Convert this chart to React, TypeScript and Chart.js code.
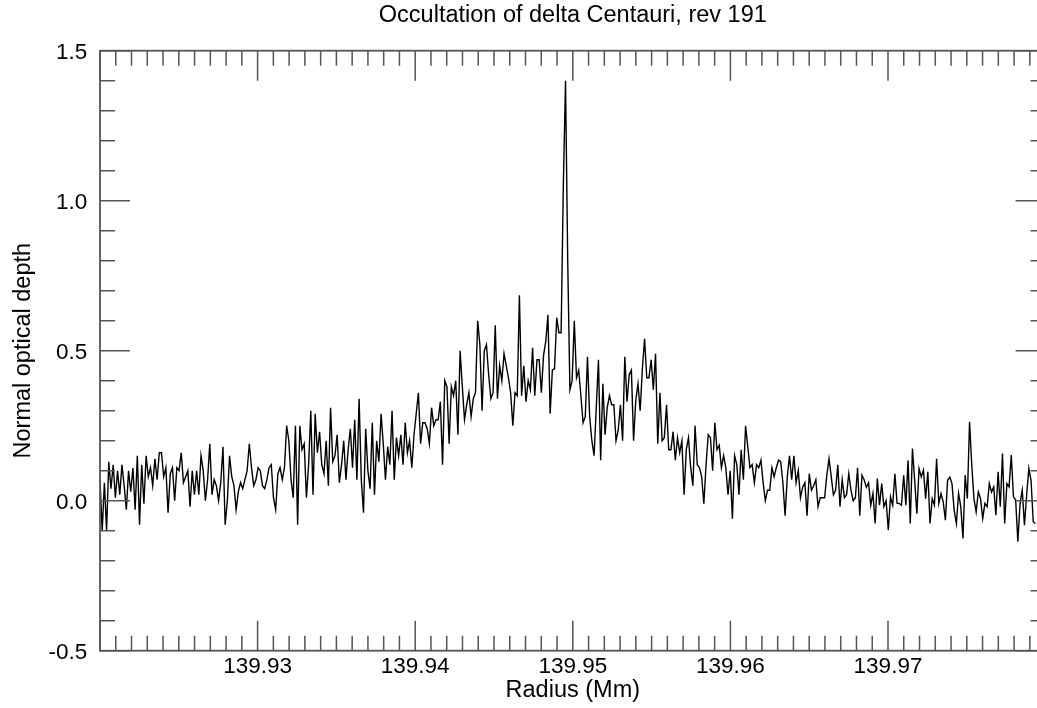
import React, { useEffect, useRef } from 'react';
import { Chart, registerables } from 'chart.js';

Chart.register(...registerables);

// ---- axis ranges & tick labels ----
const X_MIN = 139.92;
const X_MAX = 139.98;
const Y_MIN = -0.5;
const Y_MAX = 1.5;
const xTickLabels = ['139.93', '139.94', '139.95', '139.96', '139.97'];
const yTickLabels = ['-0.5', '0.0', '0.5', '1.0', '1.5'];

// ---- sampling grid of the radius (Mm) ----
const RADIUS_START = 139.92;
const RADIUS_STEP = 0.00013933;

// ---- normal optical depth, region by region ----
const depthInner = [
  0.07, -0.10, 0.06, -0.10, 0.13, 0.04, 0.12, 0.01, 0.10, 0.02,
  0.12, 0.05, -0.03, 0.10, 0.03, 0.11, -0.03, 0.15, -0.08, 0.12,
  -0.01, 0.15, 0.08, 0.11, 0.05, 0.14, 0.07, 0.16, 0.16, 0.08,
  0.11, -0.04, 0.09, 0.11, 0.00, 0.11, 0.10, 0.16, 0.06, 0.08,
  0.10, -0.02, 0.10, 0.02, 0.10, 0.02, 0.15, 0.10, 0.00, 0.07,
  0.19, 0.02, 0.07, 0.05, 0.00, 0.06, 0.18, -0.08, 0.00, 0.15,
  0.08, 0.05, -0.03, 0.03, 0.06, 0.04, 0.07, 0.10, 0.19, 0.11,
  0.05, 0.07, 0.11, 0.10, 0.05, 0.04, 0.07, 0.11, 0.12, 0.01,
  -0.03, 0.09, 0.11, 0.07, 0.11, 0.25, 0.20, 0.07, 0.01, 0.25,
  -0.08, 0.25, 0.17, 0.19, 0.01, 0.12, 0.30, 0.02, 0.29, 0.16,
  0.23, 0.12, 0.09, 0.20, 0.05, 0.31, 0.13, 0.15, 0.22,
];

const depthRise = [
  0.06, 0.12, 0.20, 0.07, 0.17, 0.24, 0.11, 0.27, 0.07, 0.34,
  0.07, -0.04, 0.24, 0.10, 0.04, 0.26, 0.02, 0.20, 0.13, 0.29,
  0.19, 0.07, 0.18, 0.12, 0.30, 0.07, 0.21, 0.15, 0.22, 0.12,
  0.26, 0.16, 0.20, 0.11, 0.22, 0.29, 0.36, 0.19, 0.26, 0.26,
  0.24, 0.19, 0.31, 0.25, 0.27, 0.27, 0.33, 0.12, 0.40, 0.38,
  0.19, 0.38, 0.35, 0.40, 0.22, 0.50,
];

const depthCore = [
  0.38, 0.27, 0.32, 0.36, 0.28, 0.34, 0.36, 0.60, 0.52, 0.30,
  0.50, 0.52, 0.42, 0.34, 0.36, 0.585, 0.34, 0.45, 0.40, 0.49,
  0.45, 0.41, 0.36, 0.25, 0.36, 0.35, 0.685, 0.35, 0.45, 0.33,
  0.40, 0.37, 0.51, 0.35, 0.47, 0.47, 0.36, 0.485, 0.53, 0.62,
  0.29, 0.435, 0.44, 0.61, 0.56, 0.56, 1.05, 1.40, 0.80, 0.37,
];

const depthShoulder = [
  0.40, 0.60, 0.41, 0.435, 0.35, 0.26, 0.28, 0.48, 0.28, 0.20,
  0.15, 0.31, 0.47, 0.135, 0.39, 0.22, 0.31, 0.35, 0.32, 0.32,
  0.20, 0.235, 0.32, 0.20, 0.48, 0.33, 0.42, 0.435, 0.20, 0.335,
  0.39, 0.30, 0.44, 0.54, 0.41, 0.41,
];

const depthFall = [
  0.47, 0.37, 0.49, 0.19, 0.36, 0.20, 0.21, 0.32, 0.17, 0.17,
  0.23, 0.135, 0.21, 0.16, 0.20, 0.02, 0.17, 0.21, 0.11, 0.05,
  0.25, 0.12, 0.11, 0.08, -0.01, 0.12, 0.22, 0.21, 0.10, 0.26,
  0.17, 0.185, 0.11, 0.15, 0.11, 0.02, 0.10, -0.06, 0.15, 0.12,
  0.02, 0.17, 0.07, 0.25, 0.18, 0.11, 0.12, 0.06, 0.12, 0.11,
  0.135, 0.06, 0.00, 0.035, 0.035, 0.11, 0.08, 0.11, 0.135, 0.13,
  0.06, -0.05, 0.08, 0.15, 0.07, 0.15, 0.06, 0.10, 0.01, 0.045,
  0.06, -0.05, 0.09, 0.035, 0.05, 0.07, -0.02, 0.01, 0.01, 0.01,
  0.085, 0.14, 0.08, 0.02, 0.035, 0.12, -0.02, 0.07, 0.01, 0.02,
  0.09, 0.035, 0.00, 0.01, 0.11, -0.05, 0.085, 0.07, 0.045,
];

const depthOuter = [
  0.06, -0.015, 0.024, -0.076, 0.074, -0.015, 0.057, -0.02, 0.00, -0.098,
  0.013, -0.015, 0.09, -0.009, -0.009, -0.015, 0.085, -0.015, 0.135, -0.076,
  0.174, 0.068, -0.043, 0.107, 0.079, 0.102, 0.007, 0.096, -0.076, 0.007,
  -0.015, 0.14, -0.009, 0.024, -0.004, -0.065, 0.068, 0.079, 0.057, -0.032,
  -0.076, 0.024, -0.02, -0.126, 0.085, 0.007, 0.263, 0.12, 0.007, -0.037,
  0.029, 0.007, -0.059, -0.009, -0.02, 0.057, 0.029, 0.046, -0.048, 0.096,
  -0.02, 0.157, -0.076, 0.057, 0.046, 0.152, 0.013, 0.002, -0.137, -0.009,
  0.035, -0.082, 0.018, 0.107, 0.068, -0.07, -0.076,
];

const depth = [
  ...depthInner,
  ...depthRise,
  ...depthCore,
  ...depthShoulder,
  ...depthFall,
  ...depthOuter,
];
const radius = depth.map((_, i) => RADIUS_START + i * RADIUS_STEP);

const FONT = "'Liberation Sans', Arial, Helvetica, sans-serif";
const AXIS_COLOR = '#555555';

const idlAxesPlugin = {
  id: 'idlAxes',
  afterDatasetsDraw(chart: any) {
    const { ctx, chartArea: a, scales } = chart;
    const xs = scales.x;
    const ys = scales.y;
    ctx.save();
    ctx.strokeStyle = AXIS_COLOR;
    ctx.lineWidth = 1.5;
    ctx.beginPath();
    const nx = Math.round((X_MAX - X_MIN) / 0.001);
    for (let k = 0; k <= nx; k++) {
      const px = xs.getPixelForValue(X_MIN + k * 0.001);
      const len = k % 10 === 0 ? 30 : 15;
      ctx.moveTo(px, a.bottom);
      ctx.lineTo(px, a.bottom - len);
      ctx.moveTo(px, a.top);
      ctx.lineTo(px, a.top + len);
    }
    const ny = Math.round((Y_MAX - Y_MIN) / 0.1);
    for (let k = 0; k <= ny; k++) {
      const py = ys.getPixelForValue(Y_MIN + k * 0.1);
      const len = k % 5 === 0 ? 30 : 15;
      ctx.moveTo(a.left, py);
      ctx.lineTo(a.left + len, py);
      ctx.moveTo(a.right, py);
      ctx.lineTo(a.right - len, py);
    }
    ctx.stroke();
    ctx.lineWidth = 1.8;
    ctx.strokeRect(a.left, a.top, a.right - a.left, a.bottom - a.top);
    ctx.restore();
  },
};

export default function App() {
  const canvasRef = useRef<HTMLCanvasElement>(null);

  useEffect(() => {
    if (!canvasRef.current) return;
    Chart.defaults.font.family = FONT;
    const chart = new Chart(canvasRef.current, {
      type: 'line',
      data: {
        datasets: [
          {
            data: radius.map((r, i) => ({ x: r, y: depth[i] })),
            borderColor: '#000000',
            borderWidth: 1.4,
            pointRadius: 0,
            tension: 0,
            fill: false,
          },
        ],
      },
      options: {
        responsive: false,
        animation: false,
        devicePixelRatio: 1,
        events: [],
        layout: { padding: { left: 0, right: 14.4, top: 0, bottom: 0 } },
        plugins: {
          legend: { display: false },
          tooltip: { enabled: false },
          title: {
            display: true,
            text: 'Occultation of delta Centauri, rev 191',
            fullSize: false,
            color: '#000000',
            font: { family: FONT, size: 23.5, weight: 'normal' },
            padding: { top: 1.5, bottom: 21 },
          },
        },
        scales: {
          x: {
            type: 'linear',
            min: X_MIN,
            max: X_MAX,
            grid: { display: false, drawTicks: false },
            border: { display: false },
            ticks: {
              stepSize: 0.01,
              autoSkip: false,
              maxRotation: 0,
              padding: 3,
              color: '#000000',
              font: { family: FONT, size: 22.5 },
              callback: (v: any) => {
                const s = Number(v).toFixed(2);
                return xTickLabels.includes(s) ? s : '';
              },
            },
            title: {
              display: true,
              text: 'Radius (Mm)',
              color: '#000000',
              font: { family: FONT, size: 23.5 },
              padding: { top: 0, bottom: 3 },
            },
            afterFit: (s: any) => {
              s.height = 57.3;
            },
          },
          y: {
            type: 'linear',
            min: Y_MIN,
            max: Y_MAX,
            grid: { display: false, drawTicks: false },
            border: { display: false },
            ticks: {
              stepSize: 0.5,
              padding: 12.7,
              labelOffset: 2,
              color: '#000000',
              font: { family: FONT, size: 22.5 },
              callback: (v: any) => {
                const s = Number(v).toFixed(1);
                return yTickLabels.includes(s) ? s : '';
              },
            },
            title: {
              display: true,
              text: 'Normal optical depth',
              color: '#000000',
              font: { family: FONT, size: 23.5 },
              padding: { top: 9, bottom: 0 },
            },
            afterFit: (s: any) => {
              s.width = 100;
            },
          },
        },
      },
      plugins: [idlAxesPlugin],
    } as any);
    return () => chart.destroy();
  }, []);

  return (
    <div
      style={{
        position: 'fixed',
        left: 0,
        top: 0,
        width: 1037,
        height: 708,
        overflow: 'hidden',
        background: '#ffffff',
      }}
    >
      <canvas
        ref={canvasRef}
        width={1060}
        height={708}
        style={{ display: 'block', width: 1060, height: 708 }}
      />
    </div>
  );
}
